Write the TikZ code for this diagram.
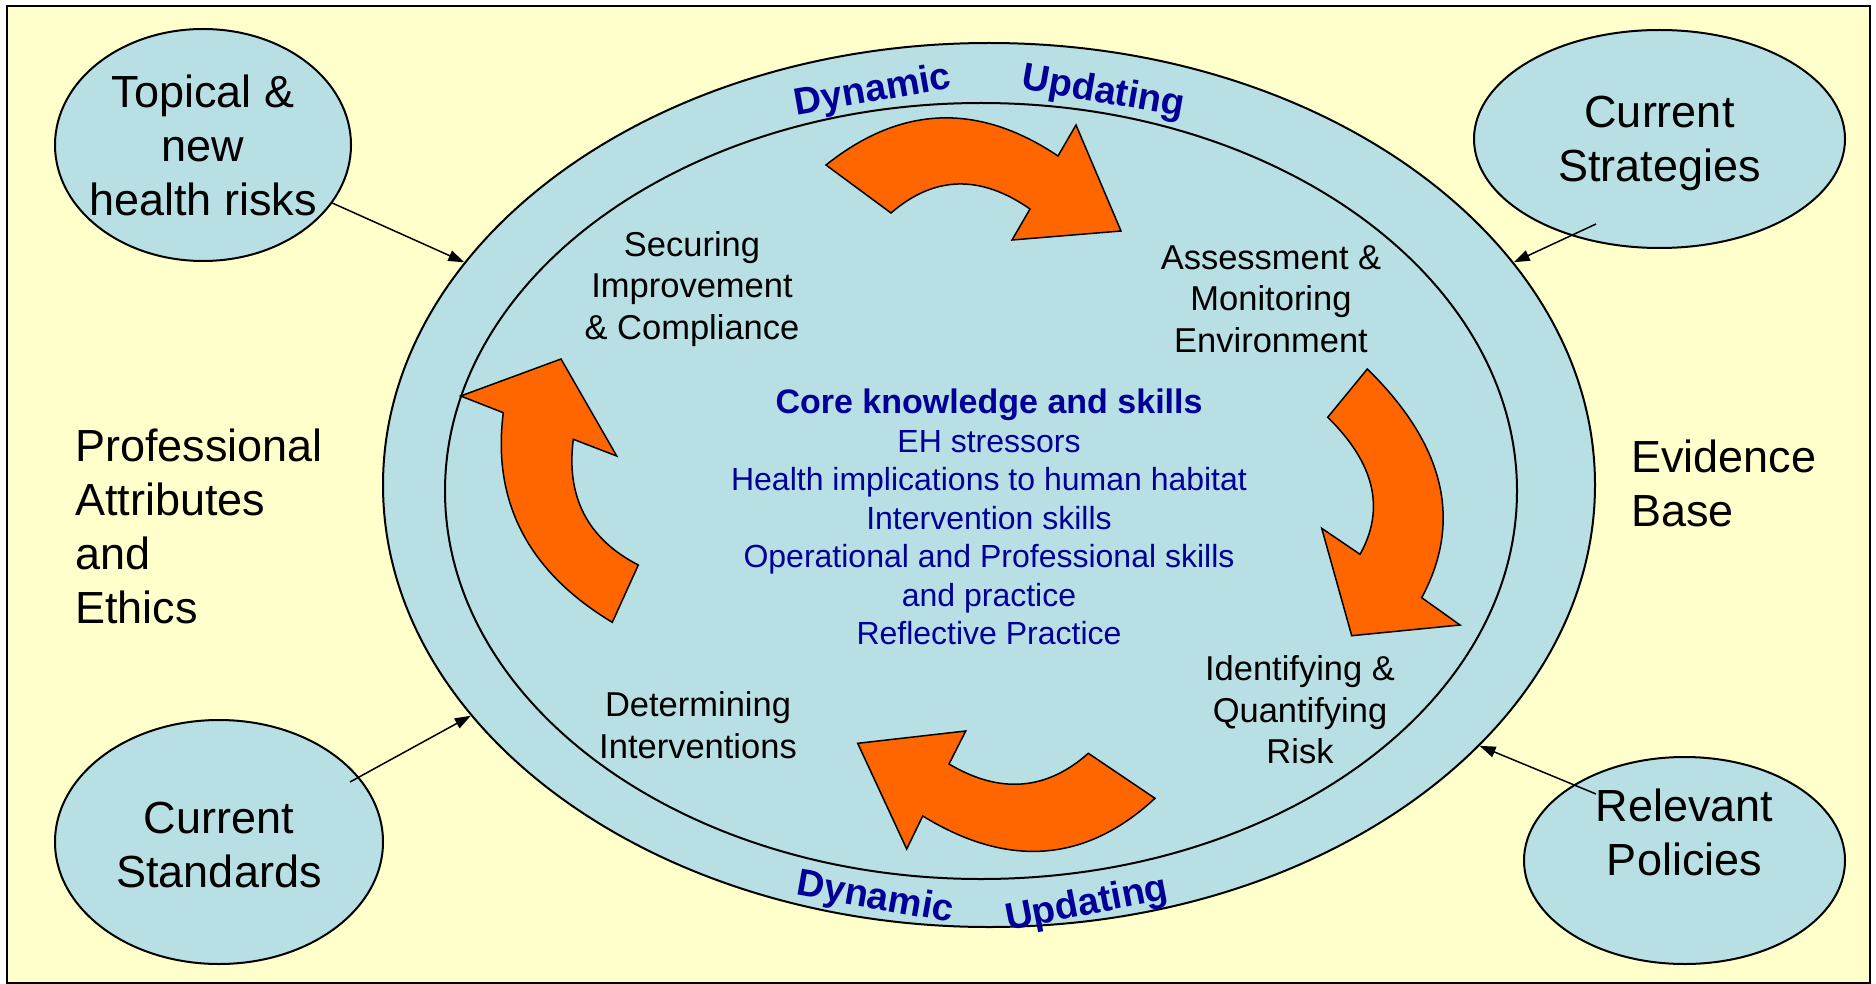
\documentclass[tikz,border=0pt]{standalone}
\usepackage{fontspec}
\setmainfont{Liberation Sans}
\usepackage{tikz}
\usetikzlibrary{shapes.geometric}
\usetikzlibrary{arrows.meta}
\definecolor{paleyellow}{HTML}{FFFFCC}
\definecolor{paleblue}{HTML}{B8DFE3}
\definecolor{cycleorange}{HTML}{FF6600}
\definecolor{darkblue}{HTML}{000099}
\tikzset{
    ring/.style={ellipse, draw, line width=2pt, fill=paleblue, inner sep=0pt},
    bigtext/.style={font=\fontsize{45}{54}\selectfont, inner sep=0pt},
    steptext/.style={font=\fontsize{34.5}{41.4}\selectfont, align=center, inner sep=0pt},
    arctext/.style={font=\bfseries\fontsize{38}{44}\selectfont, text=darkblue, inner sep=0pt},
    cyclearrow/.style={draw, line width=1.5pt, fill=cycleorange, line join=miter},
    feed/.style={line width=1.5pt, -{Triangle[length=16pt,width=11pt]}}
}

\begin{document}
\begin{tikzpicture}[x=1pt, y=-1pt]
    \useasboundingbox (0,0) rectangle (1876,984);
    \draw[line width=2pt, fill=paleyellow] (7,6) rectangle (1870,983);
    \node[ring, minimum width=1212pt, minimum height=884pt] (outer) at (989,485) {};
    \node[ring, minimum width=1072pt, minimum height=776pt] (inner) at (981,491) {};
    \node[ring, minimum width=296pt, minimum height=232pt] (topical) at (203,145) {};
    \node[ring, minimum width=371pt, minimum height=218pt] (strat) at (1659.5,139) {};
    \node[ring, minimum width=328pt, minimum height=244pt] (stand) at (219,842) {};
    \node[ring, minimum width=321pt, minimum height=207pt] (pol) at (1684.5,860.5) {};
    \node[bigtext, align=center] (topicaltext) at (topical.center) {Topical \&\\new\\health risks};
    \node[bigtext, align=center] (strattext) at ([shift={(0,4)}]strat.center) {Current\\Strategies};
    \node[bigtext, align=center] (standtext) at ([shift={(0,3)}]stand.center) {Current\\Standards};
    \node[bigtext, align=center] (poltext) at ([shift={(0,-28.5)}]pol.center) {Relevant\\Policies};
    \node[bigtext, align=left, anchor=west] (attributes) at (75,526) {Professional\\Attributes\\and\\Ethics};
    \node[bigtext, align=left, anchor=west] (evidence) at (1631,483) {Evidence\\Base};
    % feeds into the outer ring
    \draw[feed] (topical) -- (outer.157);
    \draw[feed] ([shift={(-63.5,85)}]strat.center) -- (outer.23.1);
    \draw[feed] ([shift={(131,-60)}]stand.center) -- (outer.204.7);
    \draw[feed] ([shift={(-88.5,-66.5)}]pol.center) -- (outer.332.3);
    % cycle arrows
    \draw[cyclearrow] (826,165) .. controls (900.7,105.3) and (978,102.3) .. (1058,156) -- (1076,125) -- (1121,231) -- (1012,240) -- (1030,209) .. controls (980.3,174.3) and (934,175.7) .. (891,213) -- cycle;
    \draw[cyclearrow] (1367.3,369) .. controls (1444.8,444.8) and (1462.9,521) .. (1421.7,597.7) -- (1460,625) -- (1351.7,635.7) -- (1321.7,528.3) -- (1360,554.3) .. controls (1385.5,508.9) and (1374.7,463.2) .. (1327.7,417.3) -- cycle;
    \draw[cyclearrow] (1155,798.3) .. controls (1085.7,862.6) and (1008.3,868.5) .. (922.7,816) -- (906.7,849) -- (857.7,743.3) -- (965.7,731) -- (949,764) .. controls (999.9,794.2) and (1046.3,790.6) .. (1088.3,753.3) -- cycle;
    \draw[cyclearrow] (612.3,622.3) .. controls (528.2,571.8) and (491.9,501.9) .. (503.3,412.7) -- (460.7,396) -- (561,359) -- (616.7,456) -- (573.3,439.3) .. controls (565.9,497) and (587.6,538.9) .. (638.3,565) -- cycle;
    % cycle steps
    \node[steptext] (securing) at (692,289) {Securing\\Improvement\\\& Compliance};
    \node[steptext] (assessment) at (1271,299) {Assessment \&\\Monitoring\\Environment};
    \node[steptext] (identifying) at (1300,710) {Identifying \&\\Quantifying\\Risk};
    \node[steptext] (determining) at (698,725) {Determining\\Interventions};
    \node[font=\fontsize{32}{38.5}\selectfont, text=darkblue, align=center, inner sep=0pt] (core) at (989,517) {{\bfseries\fontsize{34}{38.5}\selectfont Core knowledge and skills}\\EH stressors\\Health implications to human habitat\\Intervention skills\\Operational and Professional skills\\and practice\\Reflective Practice};
    % dynamic updating
    \node[arctext, rotate=10] (dyntop) at (873,92) {Dynamic};
    \node[arctext, rotate=-10] (updtop) at (1103,93) {Updating};
    \node[arctext, rotate=-10] (dynbottom) at (875,899) {Dynamic};
    \node[arctext, rotate=11] (updbottom) at (1087,905) {Updating};
\end{tikzpicture}
\end{document}
